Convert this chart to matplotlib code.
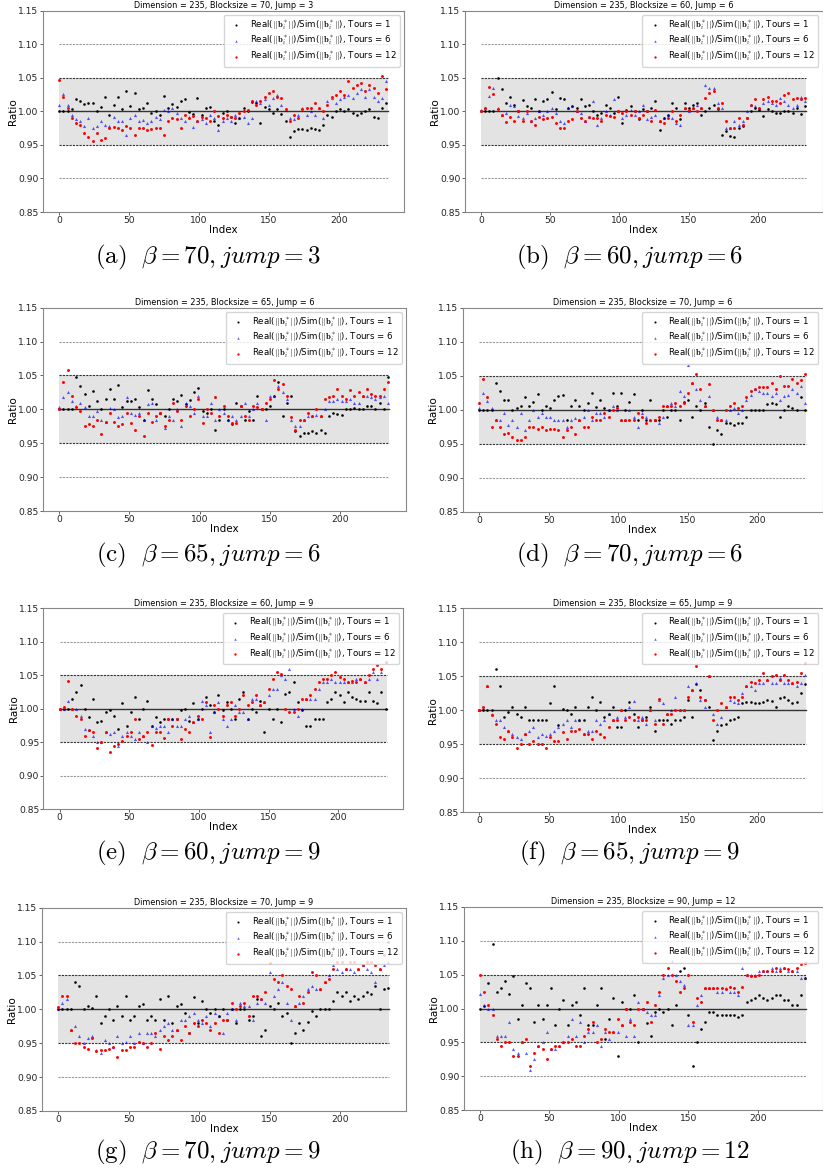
import numpy as np
import matplotlib
matplotlib.use('Agg')
import matplotlib.pyplot as plt

plt.rcParams['mathtext.fontset'] = 'cm'

W, H = 823, 1171

index = np.arange(0, 235, 3)

a_t1 = [1000,1000,1000,1004,1019,1016,1011,1013,1012,1000,
        1006,1021,995,1009,1022,1003,1031,1008,1027,1003,
        1005,1012,998,1000,994,1023,1005,1011,1006,1016,
        1019,999,996,1020,995,1005,1006,985,980,997,
        1000,992,983,990,1005,1001,1014,1012,982,1006,
        1003,998,1003,996,985,962,970,973,974,972,
        975,973,972,980,995,992,1000,1003,1000,1003,
        998,995,998,1000,1003,992,990,1005,1013]
a_t6 = [1010,1026,1009,995,988,985,978,990,975,978,
        985,980,978,992,985,985,965,990,995,985,
        987,982,985,992,988,1002,1000,1005,998,990,
        985,992,976,985,988,982,994,990,972,985,
        990,985,995,990,992,983,990,1015,1012,1018,
        1010,1020,1025,1010,1002,990,988,995,1005,995,
        1000,995,1005,990,1015,1020,1012,1018,1022,1025,
        1020,1028,1034,1022,1033,1021,1015,1020,1045]
a_t12 = [1047,1022,1005,990,982,980,968,962,956,968,
         958,961,975,977,975,972,978,975,965,975,
         975,972,974,975,975,965,985,990,988,975,
         995,990,993,985,992,990,985,1000,993,990,
         995,992,990,998,1000,1002,1015,1010,1015,1022,
         1028,1030,1022,1020,1003,985,995,990,1003,1005,
         1005,1012,1005,1000,1010,1022,1025,1030,1025,1045,
         1035,1040,1042,1030,1040,1035,1028,1052,1033]

b_t1 = [1000,1000,1000,1000,1050,1034,1012,1022,1010,1000,
        1017,1008,1005,1018,1000,1015,1018,1029,1003,1020,
        1018,1005,1008,1005,1018,1008,1009,1000,995,998,
        1010,1005,998,1021,983,1002,1008,1000,988,1003,
        1000,1005,1016,972,990,994,1012,1005,988,1012,
        1005,1010,1012,995,1000,1005,1010,1003,965,970,
        963,962,975,978,990,1000,1005,1002,993,1003,
        1000,998,997,1000,1000,997,1005,996,1008]
b_t6 = [1002,1005,1023,1035,1005,995,998,1010,1008,993,
        990,998,985,990,1000,995,1000,1005,998,985,
        982,1005,1008,1000,998,985,992,1015,980,990,
        1000,995,1018,1000,990,995,1002,995,1000,1010,
        988,992,995,985,990,995,990,983,980,1005,
        1000,1005,1010,1005,1040,1035,1035,1012,1005,975,
        975,985,980,985,1000,1010,1008,1005,1012,1015,
        1012,1010,1020,1015,1010,1005,1010,1022,1015]
b_t12 = [1000,1005,1037,1026,1003,995,984,992,985,1000,
         985,1000,985,980,992,988,990,992,982,975,
         975,985,988,1000,990,985,992,990,990,985,
         995,993,992,1000,998,1000,995,1000,990,995,
         1000,985,1002,985,982,990,1000,985,995,1005,
         1002,1005,1000,1005,1020,1028,1030,1005,1012,985,
         975,975,990,980,990,1010,1019,1005,1018,1022,
         1015,1015,1012,1025,1028,1018,1020,1018,1020]

c_t1 = [1000,1000,1000,1000,1048,1035,1023,1005,1027,1012,
        1000,1015,1030,1015,1036,1003,1012,1013,1015,1003,
        985,1029,1016,1008,995,990,1000,1016,1013,1021,
        1008,1014,1026,1031,998,995,1000,970,985,1000,
        985,978,1010,1005,985,998,985,1020,1000,1000,
        1005,1020,1040,990,1010,1020,968,960,965,965,
        968,965,970,965,990,995,993,992,1000,1000,
        1002,1000,1000,1005,1005,1000,1010,1000,1048]
c_t6 = [1003,1018,1025,1012,1005,1010,1003,990,990,998,
        985,982,1002,1000,988,990,1018,995,992,995,
        985,1008,1010,985,995,972,990,985,1000,975,
        1010,1005,995,1020,990,990,1010,985,1000,995,
        985,990,985,990,1010,990,1000,1010,1000,985,
        1020,1020,1035,1025,1015,985,975,975,985,990,
        990,992,990,1000,1012,1012,1015,1012,1012,1015,
        1010,1010,1020,1020,1018,1015,1018,1020,1010]
c_t12 = [1000,1040,1058,1020,1003,998,975,978,975,985,
         963,982,995,982,976,978,995,980,970,990,
         960,995,982,990,995,975,985,1010,998,985,
         1005,990,1000,1015,980,1000,995,1018,990,1005,
         990,980,980,1005,990,985,1005,1003,1000,1010,
         1015,1044,1030,1038,1020,988,970,985,985,995,
         990,1000,990,1015,1018,1020,1030,1020,1015,1028,
         1020,1025,1020,1030,1022,1020,1020,1030,1040]

d_t1 = [1000,1000,1000,1000,1040,1028,1015,1015,1000,1003,
        1005,1019,1005,1012,1023,1000,1005,1002,1015,1020,
        1022,985,1005,1015,1005,1000,1010,1025,1004,1015,
        1002,1000,1024,1005,1025,1000,1011,1023,985,1000,
        985,1015,985,985,1000,990,1000,1000,985,1012,
        1015,990,1005,1000,1010,975,950,970,965,980,
        980,978,980,980,990,1000,1000,1000,1000,1008,
        1010,1008,990,1000,1005,1003,1000,1018,1000]
d_t6 = [1003,1025,1013,1003,985,985,995,978,985,975,
        995,970,985,1000,990,995,990,990,985,985,
        985,975,985,988,985,990,1000,985,995,995,
        990,1000,1005,1000,985,985,1000,990,975,995,
        990,985,985,980,990,1005,1010,1005,1027,1020,
        1066,1040,1030,1015,1005,1020,1000,990,985,985,
        1000,1003,995,1000,1015,1022,1030,1028,1025,1025,
        1020,1025,1015,1020,1022,1030,1025,1035,1010]
d_t12 = [1010,1045,1018,975,985,975,965,966,960,955,
         955,960,975,975,972,975,970,972,972,970,
         960,970,975,965,985,975,975,990,985,985,
         995,990,1000,1003,985,985,985,985,995,990,
         980,985,985,990,1005,1005,1005,1010,1005,1010,
         1025,1040,1052,1030,1005,1038,1000,985,985,1000,
         1005,1010,1003,1005,1018,1028,1030,1033,1033,1033,
         1040,1030,1050,1035,1035,1045,1040,1044,1053]

e_t1 = [1000,1000,1000,1015,1025,1035,1000,988,1015,980,
        982,995,998,990,970,1008,975,995,1018,985,
        1000,1012,975,988,980,985,985,985,985,998,
        1000,982,1008,985,1000,1018,1005,995,1020,998,
        1010,1000,985,1015,1025,985,1000,995,1012,965,
        1000,985,1000,980,1022,1025,1040,1010,998,975,
        975,985,985,985,1010,1015,1025,1020,1010,1025,
        1018,1015,1012,1012,1025,1012,1008,1025,1000]
e_t6 = [1000,1000,1012,1000,1000,990,970,968,960,950,
        950,965,962,965,945,960,965,960,955,965,
        960,950,975,972,975,975,965,985,975,975,
        985,990,980,985,1012,1005,965,995,1010,985,
        975,985,1005,995,995,985,1015,1015,1005,1010,
        1020,1030,1030,1050,1045,1060,1000,990,1000,1015,
        1015,1015,1030,1040,1040,1045,1040,1040,1040,1040,
        1040,1045,1045,1040,1045,1055,1045,1055,1070]
e_t12 = [1000,1003,1042,1000,990,985,960,968,965,942,
         950,965,935,945,948,952,960,965,985,955,
         960,965,946,965,965,957,985,975,985,955,
         970,965,980,990,985,1010,958,1005,1000,990,
         1005,1010,990,1000,1020,1005,1010,1020,1005,1010,
         1030,1045,1055,1052,1000,995,995,1000,1015,1015,
         1020,1030,1040,1045,1045,1050,1055,1048,1045,1040,
         1042,1040,1045,1040,1050,1060,1065,1060,1070]

f_t1 = [1000,1000,1000,1000,1060,1035,990,998,1005,995,
        990,1005,985,985,985,985,985,1010,1035,978,
        1002,1000,995,1005,985,985,1005,1020,1000,1012,
        990,995,1005,975,975,1000,1012,995,975,985,
        990,1005,970,985,985,985,980,985,985,990,
        1015,990,1038,1030,1015,1005,957,970,978,980,
        985,987,990,1010,1012,1012,1010,1010,1012,1015,
        1014,1005,1018,1020,1015,1010,1012,1025,1038]
f_t6 = [1000,1003,1035,995,985,985,975,970,965,960,
        958,965,970,975,960,965,962,965,970,975,
        980,985,975,985,985,965,970,970,985,980,
        985,995,985,990,1000,990,1005,1013,985,990,
        980,1000,985,1015,1010,995,1000,1020,1000,1000,
        1035,1030,1040,1015,1005,1050,995,980,990,1005,
        1015,1012,1010,1025,1035,1035,1030,1040,1040,1045,
        1040,1040,1048,1040,1040,1040,1035,1040,1052]
f_t12 = [1000,1005,1035,993,980,960,958,970,960,945,
         950,965,950,955,950,950,945,960,955,955,
         968,958,970,970,972,965,965,958,970,965,
         960,975,985,985,1000,985,990,985,990,985,
         985,1000,980,1017,980,995,995,1000,1000,1000,
         1020,1030,1065,1020,1015,1050,985,1000,1010,1005,
         1020,1020,1015,1020,1035,1042,1040,1045,1055,1045,
         1050,1052,1045,1052,1045,1040,1042,1055,1070]

g_t1 = [1000,1000,1000,1000,1040,1035,1000,1005,1002,1020,
        980,990,1000,985,1005,990,1020,985,990,1005,
        1008,985,990,985,1015,985,1020,980,1005,1008,
        995,965,1018,980,1012,1000,995,1000,990,1000,
        985,1000,980,1000,1000,985,990,1015,960,970,
        1005,1000,1010,990,995,950,965,980,970,982,
        998,990,1000,1000,1000,1012,1025,1020,1025,1012,
        1020,1015,1020,1025,1022,1035,1000,1030,1032]
g_t6 = [1000,1010,1015,970,975,960,950,958,960,940,
        935,955,950,945,960,950,952,960,950,965,
        950,965,965,960,970,975,980,970,970,985,
        985,990,995,985,980,990,975,995,990,965,
        995,1000,985,1010,1005,1005,985,1010,1015,1010,
        1055,1020,1030,1040,1010,985,1005,1010,1020,1030,
        1035,1030,1030,1040,1050,1065,1060,1055,1060,1060,
        1055,1060,1065,1060,1055,1040,1060,1065,1070]
g_t12 = [1003,1020,1020,970,950,950,945,942,958,938,
         940,940,942,945,930,940,940,945,945,952,
         950,945,950,965,942,960,955,960,970,955,
         975,965,980,975,985,980,970,980,965,985,
         985,1010,1000,1005,1010,990,1020,1020,1015,1025,
         1068,1045,1040,1050,1035,1030,1005,1020,1010,1025,
         1055,1050,1030,1040,1045,1060,1070,1070,1060,1070,
         1070,1060,1065,1070,1070,1065,1060,1080,1100]

h_t1 = [1000,1003,1038,1095,1025,1030,1040,1022,1048,985,
        1005,1038,1030,980,1005,985,1005,1030,975,1000,
        1012,975,1005,1010,990,1030,975,975,1005,1030,
        955,985,1015,930,1010,1000,1000,1020,950,1000,
        978,960,995,1000,995,1000,975,1005,1055,1060,
        990,915,950,970,980,995,995,990,990,990,
        990,990,988,990,1010,1012,1015,1020,1015,1013,
        1015,1020,1020,1012,1012,1005,1005,1020,1045]
h_t6 = [1022,1005,1000,1000,960,960,960,980,940,935,
        950,935,910,925,945,950,965,940,940,945,
        950,960,985,960,980,950,965,965,975,945,
        965,955,965,965,975,960,985,960,1010,1000,
        995,990,990,1020,1045,1050,1070,1050,1040,1035,
        975,975,1005,1020,1030,1030,1030,1025,1025,1030,
        1025,1025,1020,1060,1050,1050,1050,1055,1055,1055,
        1060,1055,1060,1060,1055,1055,1055,1045,1045]
h_t12 = [1049,1025,1005,990,955,945,950,950,930,930,
         950,955,915,935,945,940,925,940,945,945,
         950,950,955,945,945,960,970,980,950,955,
         970,965,965,985,975,1000,980,975,1000,1000,
         1010,980,1005,1025,1050,1060,1050,1040,1025,1030,
         1050,980,1015,1010,1030,1030,1030,1030,1030,1028,
         1032,1030,1025,1032,1050,1048,1048,1050,1055,1055,
         1055,1060,1055,1060,1058,1055,1060,1065,1067]

blocksizes = [70, 60, 65, 70, 60, 65, 70, 90]
jumps = [3, 6, 6, 6, 9, 9, 9, 12]
letters = ['a', 'b', 'c', 'd', 'e', 'f', 'g', 'h']
tours1 = [a_t1, b_t1, c_t1, d_t1, e_t1, f_t1, g_t1, h_t1]
tours6 = [a_t6, b_t6, c_t6, d_t6, e_t6, f_t6, g_t6, h_t6]
tours12 = [a_t12, b_t12, c_t12, d_t12, e_t12, f_t12, g_t12, h_t12]

# axes boxes in pixels: left, right, top, bottom
boxes = [(42.7, 404, 10.7, 212), (464.7, 822.7, 10.7, 212),
         (42.7, 406, 307.7, 511), (462.7, 822.7, 307.7, 511.7),
         (43.3, 403.3, 608.3, 809.3), (462.7, 822.7, 608.3, 812.3),
         (41.7, 406, 907.7, 1111), (463.7, 822.7, 906.7, 1110.3)]
caption_pos = [(208, 257), (629.5, 257), (208, 555), (629.5, 555),
               (208, 853), (629.5, 853), (208, 1152), (629.5, 1152)]

norm_label = r'Real($||\mathbf{b}_i^*||$)/Sim($||\mathbf{b}_i^*||$), Tours = '

fig = plt.figure(figsize=(W / 100, H / 100), dpi=100)

for i in range(8):
    l, r, t, b = boxes[i]
    ax = fig.add_axes([l / W, 1 - b / H, (r - l) / W, (b - t) / H])

    full = [0, 235]
    ax.fill_between(full, [0.95, 0.95], [1.05, 1.05], color='gray', alpha=0.22, lw=0)
    ax.plot(full, [1.0, 1.0], color='#333333', lw=1.0)
    ax.plot(full, [0.95, 0.95], color='#333333', lw=0.8, ls=(0, (2, 1)))
    ax.plot(full, [1.05, 1.05], color='#333333', lw=0.8, ls=(0, (2, 1)))
    ax.plot(full, [0.9, 0.9], color='#999999', lw=0.8, ls=(0, (2, 1)))
    ax.plot(full, [1.1, 1.1], color='#999999', lw=0.8, ls=(0, (2, 1)))

    ax.scatter(index, np.array(tours1[i]) / 1000, s=3.5, c='black', lw=0,
               label=norm_label + '1', zorder=3)
    ax.scatter(index, np.array(tours6[i]) / 1000, s=5, c='blue', marker='^', alpha=0.65, lw=0,
               label=norm_label + '6', zorder=3)
    ax.scatter(index, np.array(tours12[i]) / 1000, s=4.5, c='red', lw=0,
               label=norm_label + '12', zorder=3)

    ax.set_xlim(-11.75, 246.75)
    ax.set_ylim(0.85, 1.15)
    ax.set_xticks([0, 50, 100, 150, 200])
    ax.set_yticks([0.85, 0.90, 0.95, 1.00, 1.05, 1.10, 1.15])
    ax.set_yticklabels(['0.85', '0.90', '0.95', '1.00', '1.05', '1.10', '1.15'])
    ax.tick_params(labelsize=6.6, length=2, width=0.5, pad=1, colors='#222222')
    for s in ax.spines.values():
        s.set_color('#888888')
        s.set_linewidth(0.8)

    ax.set_xlabel('Index', fontsize=7.5, labelpad=0)
    ax.set_ylabel('Ratio', fontsize=7.5, labelpad=0)
    ax.set_title(f'Dimension = 235, Blocksize = {blocksizes[i]}, Jump = {jumps[i]}',
                 fontsize=5.9, pad=2)
    ax.legend(loc='upper right', fontsize=6.2, labelspacing=0.3, handletextpad=0.6,
              borderaxespad=0.5, markerscale=0.8)

    cx, cy = caption_pos[i]
    fig.text(cx / W, 1 - cy / H,
             rf'$\mathrm{{({letters[i]})}}\ \ \beta = {blocksizes[i]}, jump = {jumps[i]}$',
             ha='center', va='center', fontsize=18)

fig.savefig('out.png', dpi=100)
